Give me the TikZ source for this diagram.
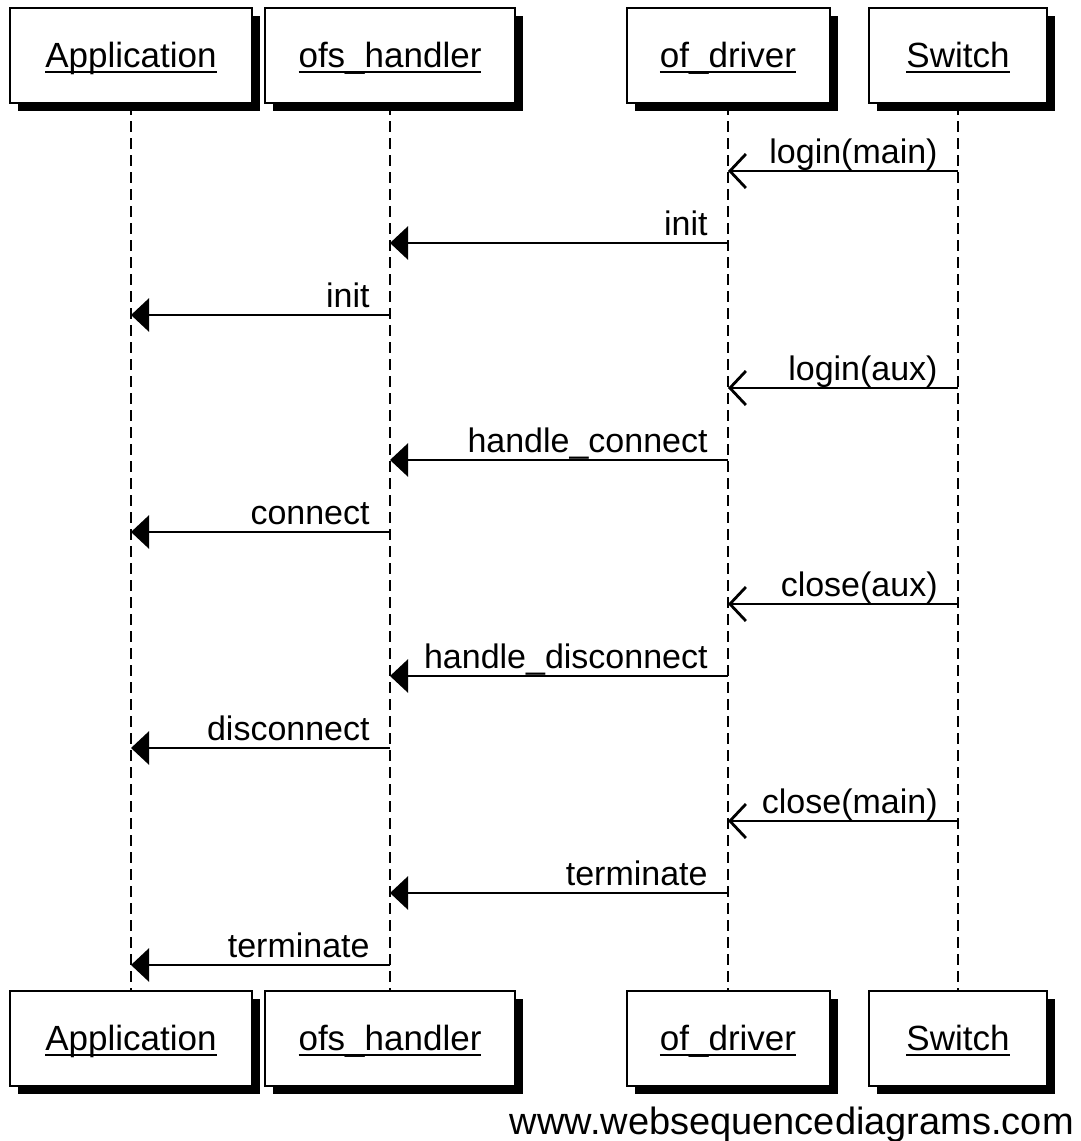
\documentclass[tikz,border=0pt]{standalone}
\usepackage{fontspec}
\setmainfont{Liberation Sans}
\usetikzlibrary{arrows.meta,shadows}
\newsavebox\ulbox
\newcommand\ulname[1]{\sbox\ulbox{#1}\rlap{\rule[-5.5pt]{\wd\ulbox}{2pt}}\usebox\ulbox}
\tikzset{
  actor/.style={draw, line width=2pt, fill=white, minimum height=95pt,
    inner sep=0pt, text height=30pt, text depth=7pt,
    font=\fontsize{35}{42}\selectfont,
    drop shadow={shadow xshift=8pt, shadow yshift=-8pt, opacity=1, fill=black}},
  life/.style={line width=2.4pt, dash pattern=on 11pt off 6pt},
  syncmsg/.style={line width=2.8pt, -{Triangle[length=18pt,width=33pt]}},
  asyncmsg/.style={line width=2.8pt, -{Straight Barb[length=16pt,width=34pt]}},
  msglabel/.style={anchor=base east, inner sep=0pt, xshift=-19pt, yshift=8pt,
    font=\fontsize{34}{40}\selectfont},
}
\begin{document}
\begin{tikzpicture}[x=1pt,y=-1pt]
\useasboundingbox (0,0) rectangle (1080,1141);

% participants, top and bottom
\node[actor, minimum width=242pt] (appT) at (131,55.5)  {\ulname{Application}};
\node[actor, minimum width=250pt] (ofsT) at (390,55.5)  {\ulname{ofs\_handler}};
\node[actor, minimum width=203pt] (drvT) at (728,55.5)  {\ulname{of\_driver}};
\node[actor, minimum width=178pt] (swT)  at (958,55.5)  {\ulname{Switch}};
\node[actor, minimum width=242pt] (appB) at (131,1038.5) {\ulname{Application}};
\node[actor, minimum width=250pt] (ofsB) at (390,1038.5) {\ulname{ofs\_handler}};
\node[actor, minimum width=203pt] (drvB) at (728,1038.5) {\ulname{of\_driver}};
\node[actor, minimum width=178pt] (swB)  at (958,1038.5) {\ulname{Switch}};

% lifelines
\draw[life] (appT.south) -- (appB.north);
\draw[life] (ofsT.south) -- (ofsB.north);
\draw[life] (drvT.south) -- (drvB.north);
\draw[life] (swT.south)  -- (swB.north);

% message rows
\foreach \i/\y in {1/171,2/243,3/315,4/388,5/460,6/532,7/604,8/676,9/748,10/821,11/893,12/965}
  \coordinate (m\i) at (0,\y);

% messages
\draw[asyncmsg] (swT |- m1)  node[msglabel] {login(main)} -- (drvT |- m1);
\draw[syncmsg]  (drvT |- m2) node[msglabel] {init} -- (ofsT |- m2);
\draw[syncmsg]  (ofsT |- m3) node[msglabel] {init} -- (appT |- m3);
\draw[asyncmsg] (swT |- m4)  node[msglabel] {login(aux)} -- (drvT |- m4);
\draw[syncmsg]  (drvT |- m5) node[msglabel] {handle\_connect} -- (ofsT |- m5);
\draw[syncmsg]  (ofsT |- m6) node[msglabel] {connect} -- (appT |- m6);
\draw[asyncmsg] (swT |- m7)  node[msglabel] {close(aux)} -- (drvT |- m7);
\draw[syncmsg]  (drvT |- m8) node[msglabel] {handle\_disconnect} -- (ofsT |- m8);
\draw[syncmsg]  (ofsT |- m9) node[msglabel] {disconnect} -- (appT |- m9);
\draw[asyncmsg] (swT |- m10) node[msglabel] {close(main)} -- (drvT |- m10);
\draw[syncmsg]  (drvT |- m11) node[msglabel] {terminate} -- (ofsT |- m11);
\draw[syncmsg]  (ofsT |- m12) node[msglabel] {terminate} -- (appT |- m12);

% footer
\node[anchor=base east, inner sep=0pt, font=\fontsize{38}{44}\selectfont] (footer)
  at (1074,1134) {www.websequencediagrams.com};
\end{tikzpicture}
\end{document}
